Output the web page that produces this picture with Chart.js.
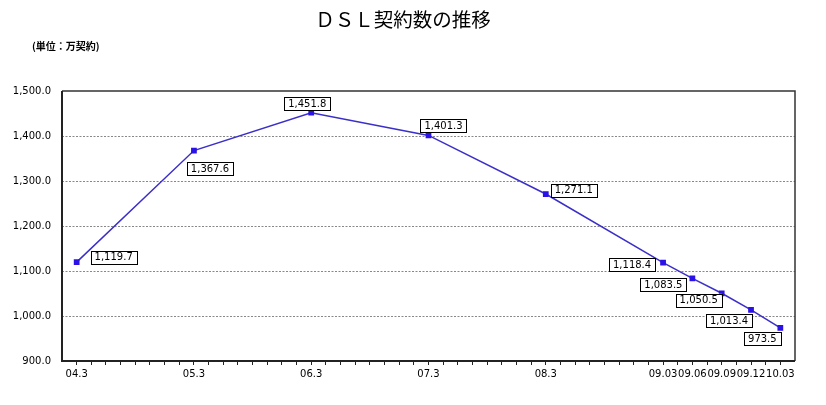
<!DOCTYPE html>
<html>
<head>
<meta charset="utf-8">
<script src="https://cdn.jsdelivr.net/npm/chart.js@4/dist/chart.umd.min.js"></script>
<style>
  html, body { margin: 0; padding: 0; background: #fff; }
  #wrap { position: relative; width: 826px; height: 405px; }
</style>
</head>
<body>
<div id="wrap"><canvas id="c" width="826" height="405"></canvas></div>
<script>
// data
const periodLabels = ['04.3', '05.3', '06.3', '07.3', '08.3', '09.03', '09.06', '09.09', '09.12', '10.03'];
const periodYears = [2004.25, 2005.25, 2006.25, 2007.25, 2008.25, 2009.25, 2009.5, 2009.75, 2010.0, 2010.25];
const dslContracts = [1119.7, 1367.6, 1451.8, 1401.3, 1271.1, 1118.4, 1083.5, 1050.5, 1013.4, 973.5];
const yTicks = [900, 1000, 1100, 1200, 1300, 1400, 1500];

// label box offsets from each point (px)
const labelOffsets = [[37, -5], [16, 18], [-4, -9], [15, -10], [28, -4], [-31, 2], [-29, 6], [-23, 7], [-22, 11], [-18, 11]];

const fmt = v => v.toLocaleString('en-US', { minimumFractionDigits: 1, maximumFractionDigits: 1 });
const tickFont = '"DejaVu Sans", sans-serif';

const textPlugin = {
    id: 'texts',
    afterDraw(chart) {
        const c = chart.ctx;
        const { left, top, right, bottom } = chart.chartArea;
        c.save();
        // title + unit
        c.fillStyle = '#000';
        c.textBaseline = 'middle';
        c.textAlign = 'center';
        c.font = '19.5px "Noto Sans CJK JP"';
        c.fillText('ＤＳＬ契約数の推移', 403, 20);
        c.textAlign = 'left';
        c.font = 'bold 10px "Noto Sans CJK JP"';
        c.fillText('(単位：万契約)', 32, 46);

        // frame: thin top/right, thick left/bottom
        c.strokeStyle = '#333';
        c.lineWidth = 1.5;
        c.beginPath();
        c.moveTo(left, top); c.lineTo(right, top); c.lineTo(right, bottom);
        c.stroke();
        c.strokeStyle = '#222';
        c.lineWidth = 2;
        c.beginPath();
        c.moveTo(left, top); c.lineTo(left, bottom); c.lineTo(right, bottom);
        c.stroke();

        // value boxes
        const meta = chart.getDatasetMeta(0);
        c.font = '10px ' + tickFont;
        c.textAlign = 'center';
        meta.data.forEach((pt, i) => {
            const s = fmt(dslContracts[i]);
            const w = c.measureText(s).width + 8;
            const h = 13;
            const cx = pt.x + labelOffsets[i][0];
            const cy = pt.y + labelOffsets[i][1];
            c.fillStyle = '#fff';
            c.fillRect(cx - w / 2, cy - h / 2, w, h);
            c.strokeStyle = '#000';
            c.lineWidth = 1;
            c.strokeRect(Math.round(cx - w / 2) + 0.5, Math.round(cy - h / 2) + 0.5, Math.round(w), h);
            c.fillStyle = '#000';
            c.fillText(s, cx, cy + 0.5);
        });
        c.restore();
    }
};

new Chart(document.getElementById('c'), {
    type: 'line',
    data: {
        datasets: [{
            data: periodYears.map((x, i) => ({ x, y: dslContracts[i] })),
            borderColor: '#3b2fc9',
            borderWidth: 1.5,
            pointStyle: 'rect',
            pointRadius: 3,
            pointBackgroundColor: '#2b12e6',
            pointBorderColor: '#2b12e6',
            tension: 0,
        }],
    },
    options: {
        responsive: false,
        animation: false,
        layout: { padding: { left: 0, top: 91, right: 31, bottom: 0 } },
        plugins: { legend: { display: false }, tooltip: { enabled: false } },
        scales: {
            x: {
                type: 'linear',
                min: 2004.125,
                max: 2010.375,
                afterBuildTicks: (s) => {
                    const t = [];
                    for (let k = 0; k <= 48; k++) t.push({ value: 2004.25 + k * 0.125 });
                    s.ticks = t;
                },
                afterFit: (s) => { s.height = 44; },
                border: { display: false },
                grid: { drawOnChartArea: false, drawTicks: true, tickLength: 4, color: '#222', lineWidth: 1 },
                ticks: {
                    autoSkip: false,
                    maxRotation: 0,
                    padding: 3,
                    color: '#000',
                    font: { family: tickFont, size: 10 },
                    callback: (v) => {
                        const i = periodYears.findIndex(p => Math.abs(p - v) < 1e-6);
                        return i >= 0 ? periodLabels[i] : '';
                    },
                },
            },
            y: {
                min: 900,
                max: 1500,
                afterBuildTicks: (s) => { s.ticks = yTicks.map(v => ({ value: v })); },
                afterFit: (s) => { s.width = 62; },
                border: { display: false, dash: [2, 1.5] },
                grid: {
                    drawTicks: false,
                    color: (ctx) => (ctx.tick.value === 900 || ctx.tick.value === 1500) ? 'rgba(0,0,0,0)' : '#888',
                    lineWidth: 1,
                },
                ticks: {
                    padding: 11,
                    color: '#000',
                    font: { family: tickFont, size: 10 },
                    callback: (v) => fmt(v),
                },
            },
        },
    },
    plugins: [textPlugin],
});
</script>
</body>
</html>
